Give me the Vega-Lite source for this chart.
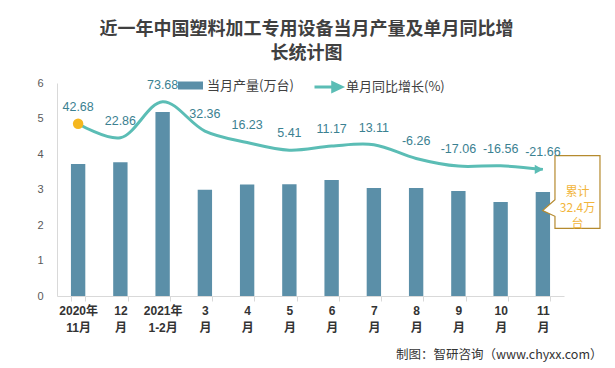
{
  "$schema": "https://vega.github.io/schema/vega-lite/v6.json",
  "width": 507,
  "height": 213,
  "autosize": {"type": "none"},
  "padding": {"left": 57, "top": 83, "right": 51, "bottom": 72},
  "background": "white",
  "config": {
    "view": {"stroke": null},
    "font": "Liberation Sans",
    "axisY": {
      "title": null,
      "values": [0, 1, 2, 3, 4, 5, 6],
      "ticks": false,
      "labelPadding": 14,
      "labelFontSize": 11,
      "labelColor": "#595959",
      "labelOverlap": false,
      "domainColor": "#D9D9D9",
      "grid": false
    }
  },
  "title": {
    "text": ["近一年中国塑料加工专用设备当月产量及单月同比增", "长统计图"],
    "font": "Noto Sans CJK SC",
    "fontSize": 18,
    "fontWeight": "bold",
    "color": "#404040",
    "lineHeight": 24,
    "anchor": "middle",
    "dx": -4,
    "offset": 9
  },
  "data": {
    "values": [
      {"month": "2020年11月", "production": 3.72, "growth": 42.68},
      {"month": "12月", "production": 3.77, "growth": 22.86},
      {"month": "2021年1-2月", "production": 5.18, "growth": 73.68},
      {"month": "3月", "production": 2.99, "growth": 32.36},
      {"month": "4月", "production": 3.14, "growth": 16.23},
      {"month": "5月", "production": 3.15, "growth": 5.41},
      {"month": "6月", "production": 3.27, "growth": 11.17},
      {"month": "7月", "production": 3.04, "growth": 13.11},
      {"month": "8月", "production": 3.04, "growth": -6.26},
      {"month": "9月", "production": 2.96, "growth": -17.06},
      {"month": "10月", "production": 2.65, "growth": -16.56},
      {"month": "11月", "production": 2.93, "growth": -21.66, "note": "累计\n32.4万\n台"}
    ]
  },
  "encoding": {
    "x": {
      "field": "month",
      "type": "nominal",
      "sort": null,
      "scale": {"type": "band", "paddingInner": 0.66, "paddingOuter": 0.33},
      "axis": {
        "title": "制图：智研咨询（www.chyxx.com）",
        "titleX": 545,
        "titleY": 58,
        "titleAlign": "right",
        "titleAnchor": "end",
        "titleBaseline": "middle",
        "titleFont": "Noto Sans CJK SC",
        "titleFontSize": 12.5,
        "titleFontWeight": "normal",
        "titleColor": "#333333",
        "labelAngle": 0,
        "labelFont": "Liberation Sans, Noto Sans CJK SC",
        "labelFontSize": 12,
        "labelFontWeight": "bold",
        "labelColor": "#333333",
        "labelPadding": 4,
        "labelLineHeight": 17,
        "labelExpr": "!datum.label ? '' : indexof(datum.label,'年')>=0 ? [substring(datum.label,0,indexof(datum.label,'年')+1), substring(datum.label,indexof(datum.label,'年')+1)] : [replace(datum.label,'月',''), '月']",
        "domainColor": "#D9D9D9",
        "tickColor": "#D9D9D9",
        "tickSize": 5,
        "tickBand": "extent",
        "grid": false
      }
    }
  },
  "layer": [
    {
      "layer": [
        {
          "mark": {"type": "bar"},
          "encoding": {
            "y": {"field": "production", "type": "quantitative", "scale": {"domain": [0, 6], "nice": false}},
            "fill": {
              "datum": "当月产量(万台)",
              "type": "nominal",
              "scale": {"range": ["#5B8FA8"]},
              "legend": {
                "title": null,
                "orient": "none",
                "legendX": 121,
                "legendY": -10,
                "padding": 0,
                "symbolType": "M-1,-0.32L1,-0.32L1,0.32L-1,0.32Z",
                "symbolSize": 625,
                "symbolStrokeWidth": 0,
                "labelFont": "Noto Sans CJK SC",
                "labelFontSize": 13,
                "labelColor": "#404040",
                "labelOffset": 4
              }
            }
          }
        },
        {
          "transform": [{"filter": "isValid(datum.note)"}],
          "mark": {
            "type": "point",
            "shape": "M-0.62,-1L0.62,-1L0.62,1L-0.62,1L-0.62,0.67L-0.96,0.51L-0.62,0.21Z",
            "size": 5271,
            "filled": true,
            "fill": "white",
            "stroke": "#B58A2E",
            "strokeWidth": 1.2,
            "opacity": 1,
            "xOffset": 34.6
          },
          "encoding": {
            "y": {"field": "production", "type": "quantitative", "scale": {"domain": [0, 6], "nice": false}}
          }
        },
        {
          "transform": [{"filter": "isValid(datum.note)"}],
          "mark": {
            "type": "text",
            "lineBreak": "\n",
            "lineHeight": 16,
            "font": "Noto Sans CJK SC",
            "fontSize": 12,
            "color": "#F2B53A",
            "baseline": "middle",
            "align": "center",
            "xOffset": 34.6
          },
          "encoding": {
            "y": {"field": "production", "type": "quantitative", "scale": {"domain": [0, 6], "nice": false}},
            "text": {"field": "note", "type": "nominal"}
          }
        }
      ]
    },
    {
      "layer": [
        {
          "mark": {"type": "line", "interpolate": "catmull-rom", "strokeWidth": 3},
          "encoding": {
            "y": {"field": "growth", "type": "quantitative", "scale": {"domain": [-200, 100], "nice": false, "zero": false}, "axis": null},
            "stroke": {
              "datum": "单月同比增长(%)",
              "type": "nominal",
              "scale": {"range": ["#5BBDB5"]},
              "legend": {
                "title": null,
                "orient": "none",
                "legendX": 256,
                "legendY": -11,
                "padding": 0,
                "symbolType": "M-1,0L0.5,0M0.35,-0.3L1,0L0.35,0.3Z",
                "symbolSize": 729,
                "symbolStrokeWidth": 3,
                "symbolFillColor": "#5BBDB5",
                "labelFont": "Noto Sans CJK SC",
                "labelFontSize": 13,
                "labelColor": "#404040",
                "labelOffset": 3,
                "encode": {"symbols": {"update": {"fill": {"value": "#5BBDB5"}, "stroke": {"value": "#5BBDB5"}}}}
              }
            }
          }
        },
        {
          "mark": {"type": "text", "dy": -17, "fontSize": 12.5, "color": "#3B8191", "baseline": "middle"},
          "encoding": {
            "y": {"field": "growth", "type": "quantitative", "scale": {"domain": [-200, 100], "nice": false, "zero": false}, "axis": null},
            "text": {"field": "growth", "type": "nominal"}
          }
        },
        {
          "transform": [{"filter": "datum.month == '2020年11月'"}],
          "mark": {"type": "point", "filled": true, "size": 110, "color": "#F5B71F", "opacity": 1},
          "encoding": {
            "y": {"field": "growth", "type": "quantitative", "scale": {"domain": [-200, 100], "nice": false, "zero": false}, "axis": null}
          }
        },
        {
          "transform": [{"filter": "isValid(datum.note)"}],
          "mark": {"type": "point", "shape": "triangle-right", "filled": true, "size": 90, "color": "#5BBDB5", "opacity": 1, "xOffset": -4},
          "encoding": {
            "y": {"field": "growth", "type": "quantitative", "scale": {"domain": [-200, 100], "nice": false, "zero": false}, "axis": null}
          }
        }
      ]
    }
  ],
  "resolve": {"scale": {"y": "independent"}}
}
